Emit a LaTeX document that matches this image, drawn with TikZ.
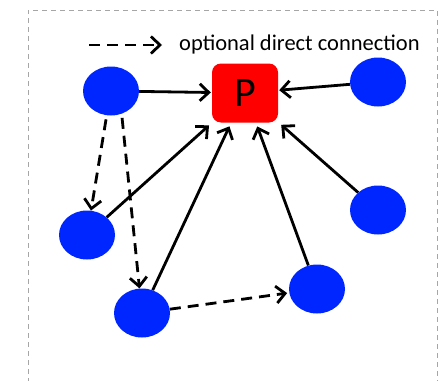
\documentclass[tikz,border=0pt]{standalone}
\usepackage{fontspec}
\setmainfont{Carlito}
\usetikzlibrary{arrows.meta,shapes.geometric}
\definecolor{nodeblue}{HTML}{0026FF}
\definecolor{boxred}{HTML}{FF0000}
\begin{document}
\begin{tikzpicture}[x=1pt,y=-1pt,
  dot/.style={ellipse,fill=nodeblue,draw=none,minimum width=56pt,minimum height=49pt,inner sep=0pt},
  pbox/.style={rectangle,rounded corners=9pt,fill=boxred,draw=none,minimum width=66pt,minimum height=59pt,inner sep=0pt,font=\fontsize{42}{42}\selectfont},
  conn/.style={line width=2.8pt,-{Straight Barb[length=9pt,width=17pt,line width=2.8pt]}},
  opt/.style={conn,dash pattern=on 11pt off 7pt},
  frame/.style={draw=black!35,line width=1pt,dash pattern=on 5pt off 4pt}
]
\useasboundingbox (0,0) rectangle (446,380);
\draw[frame] (28,392) -- (28,10) -- (437,10) -- (437,392);
% legend
\coordinate (l1) at (89,45);
\coordinate (l2) at (162,45);
\draw[opt] (l1) -- (l2);
\node[anchor=west,font=\fontsize{22.5}{22.5}\selectfont,inner sep=0pt] (legend) at (179,45) {optional direct connection};
% nodes
\node[pbox] (P) at (245,93) {P};
\node[dot] (A) at (111,91) {};
\node[dot] (B) at (378,82) {};
\node[dot] (C) at (378,210) {};
\node[dot] (D) at (87,235) {};
\node[dot] (E) at (142,313) {};
\node[dot] (F) at (317,289) {};
% solid connectors
\draw[conn,shorten >=1pt] (A) -- (P);
\draw[conn,shorten >=1pt] (B) -- (P);
\draw[conn,shorten >=4pt] (D) -- (P);
\draw[conn,shorten >=4pt] (E) -- (P);
\draw[conn,shorten >=4pt] (F) -- (P);
\draw[conn,shorten >=4pt] (C) -- (P);
% dashed connectors
\draw[opt,shorten <=4pt] (A.-100) -- (D);
\draw[opt,shorten <=4pt] (A.-65) -- (E);
\draw[opt,shorten >=2pt] (E) -- (F);
\end{tikzpicture}
\end{document}
